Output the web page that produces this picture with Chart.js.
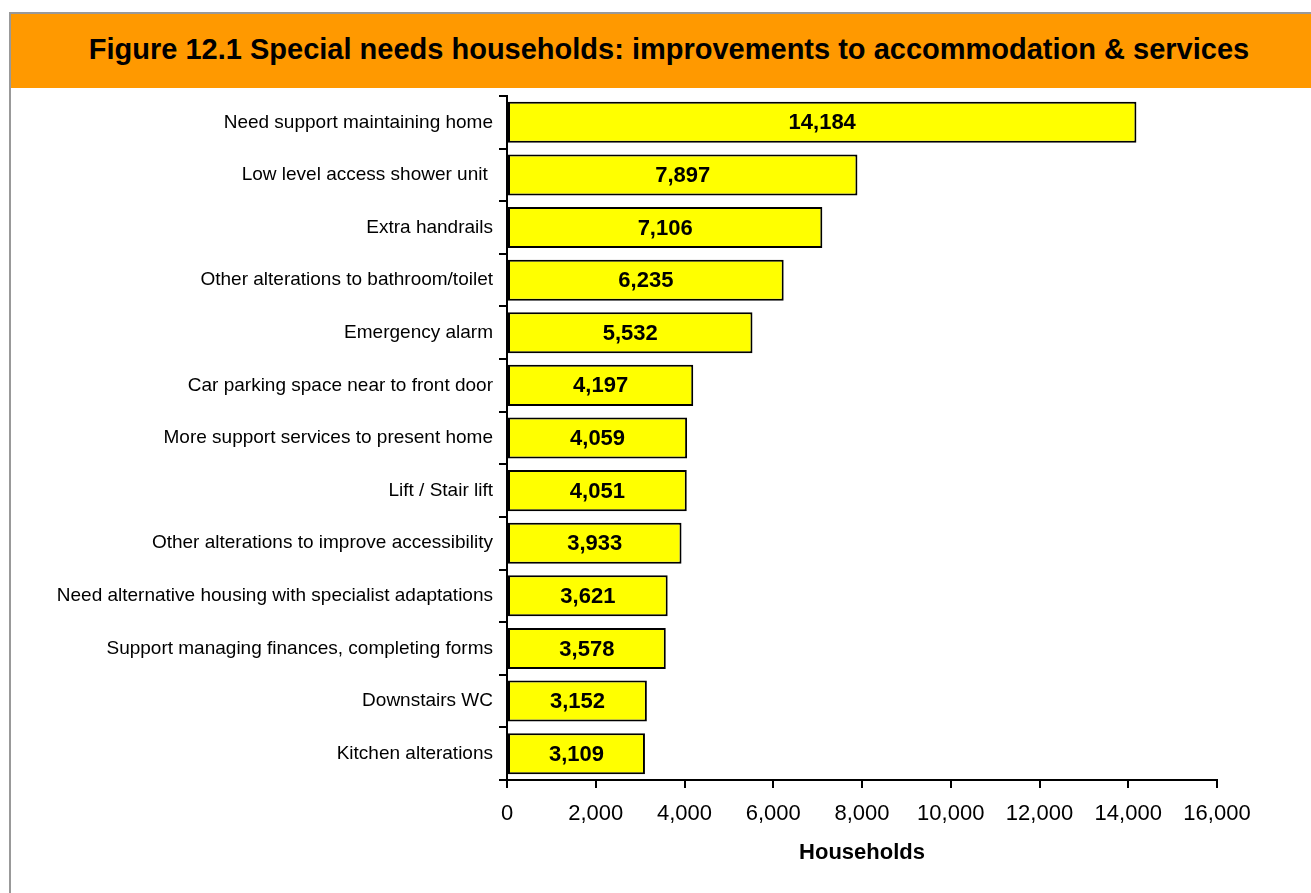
<!DOCTYPE html>
<html>
<head>
<meta charset="utf-8">
<script src="https://cdn.jsdelivr.net/npm/chart.js@4"></script>
<style>
  html, body { margin: 0; padding: 0; background: #fff; overflow: hidden; }
  #frame {
    position: absolute; left: 9px; top: 12px; width: 1320px; height: 900px;
    border-left: 2px solid #999; border-top: 2px solid #999;
  }
  #header {
    position: absolute; left: 0; top: 0; width: 1316px; height: 74px;
    background: #FF9900; font-family: "Liberation Sans", Arial, sans-serif;
    font-weight: bold; font-size: 29px; color: #000;
    text-align: center; line-height: 70px;
  }
  #chart { position: absolute; left: 0; top: 0; }
</style>
</head>
<body>
<div id="frame"><div id="header">Figure 12.1 Special needs households: improvements to accommodation &amp; services</div></div>
<canvas id="chart" width="1311" height="893"></canvas>
<script>
const categories = [
    'Need support maintaining home',
    'Low level access shower unit ',
    'Extra handrails',
    'Other alterations to bathroom/toilet',
    'Emergency alarm',
    'Car parking space near to front door',
    'More support services to present home',
    'Lift / Stair lift',
    'Other alterations to improve accessibility',
    'Need alternative housing with specialist adaptations',
    'Support managing finances, completing forms',
    'Downstairs WC',
    'Kitchen alterations'
];
const households = [14184, 7897, 7106, 6235, 5532, 4197, 4059, 4051, 3933, 3621, 3578, 3152, 3109];
const xMax = 16000;
const xStep = 2000;

// draws the value in the middle of each bar
const barLabels = {
    id: 'barLabels',
    afterDatasetsDraw(chart) {
        const ctx = chart.ctx;
        const meta = chart.getDatasetMeta(0);
        ctx.save();
        ctx.font = 'bold 22px "Liberation Sans", Arial, sans-serif';
        ctx.fillStyle = '#000';
        ctx.textAlign = 'center';
        ctx.textBaseline = 'middle';
        meta.data.forEach((bar, i) => {
            ctx.fillText(households[i].toLocaleString('en-US'), (bar.x + bar.base) / 2, bar.y + 1);
        });
        ctx.restore();
    }
};

const ctx = document.getElementById('chart').getContext('2d');
const chart = new Chart(ctx, {
    type: 'bar',
    data: {
        labels: categories,
        datasets: [{
            data: households,
            backgroundColor: '#FFFF00',
            borderColor: '#000',
            borderWidth: 2,
            borderSkipped: false,
            barPercentage: 0.78,
            categoryPercentage: 1
        }]
    },
    options: {
        indexAxis: 'y',
        responsive: false,
        animation: false,
        devicePixelRatio: 1,
        layout: { padding: { top: 96, right: 94, left: 0, bottom: 0 } },
        plugins: {
            legend: { display: false },
            tooltip: { enabled: false }
        },
        scales: {
            x: {
                min: 0,
                max: xMax,
                afterFit(scale) { scale.height = 113; },
                ticks: {
                    stepSize: xStep,
                    padding: 13,
                    color: '#000',
                    font: { family: '"Liberation Sans", Arial, sans-serif', size: 22 },
                    callback: v => v.toLocaleString('en-US')
                },
                grid: { drawOnChartArea: false, color: '#000', lineWidth: 2, tickLength: 8 },
                border: { color: '#000', width: 2 },
                title: {
                    display: true,
                    text: 'Households',
                    color: '#000',
                    font: { family: '"Liberation Sans", Arial, sans-serif', size: 22, weight: 'bold' },
                    padding: { top: 0, bottom: 27 }
                }
            },
            y: {
                afterFit(scale) { scale.width = 507; },
                ticks: {
                    padding: 6,
                    color: '#000',
                    font: { family: '"Liberation Sans", Arial, sans-serif', size: 19 }
                },
                grid: { drawOnChartArea: false, color: '#000', lineWidth: 2, tickLength: 8, offset: true },
                border: { color: '#000', width: 2 }
            }
        }
    },
    plugins: [barLabels]
});
</script>
</body>
</html>
